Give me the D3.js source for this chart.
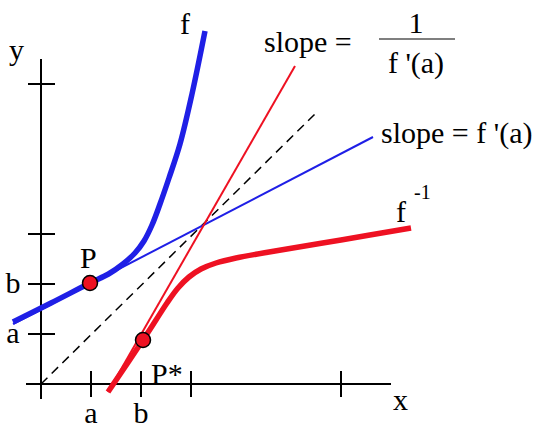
<!DOCTYPE html>
<html><head><meta charset="utf-8">
<script src="https://cdn.jsdelivr.net/npm/d3@7"></script>
<style>body{margin:0;background:#fff}</style>
</head><body><div id="chart"></div>
<script>
// curve f (blue) and its inverse (red)
const fCurve = [[-0.56,1.24],[0.2,1.62],[0.98,2.02],[1.35,2.2],[1.64,2.4],[1.88,2.62],[2.06,2.86],[2.22,3.18],[2.38,3.6],[2.56,4.12],[2.78,4.8],[3.02,5.8],[3.28,7.06]];
const fInvCurve = [[1.34,-0.16],[2.04,0.88],[2.3,1.28],[2.52,1.62],[2.74,1.92],[2.96,2.14],[3.2,2.3],[3.5,2.42],[3.9,2.52],[4.68,2.66],[6.0,2.88],[7.4,3.12]];
const tangentF = [[-0.56,1.2],[6.64,4.94]];
const tangentInv = [[1.34,-0.16],[5.08,6.36]];
const diagonal = [[0,0],[5.5,5.42]];
const xTicks = [1,2,3,6];
const yTicks = [1,2,3,6];
const xTickLabels = [{v:1,t:"a"},{v:2,t:"b"}];
const yTickLabels = [{v:1,t:"a"},{v:2,t:"b"}];
const P = [0.98,2.02], Pstar = [2.04,0.88];

const svg = d3.select('#chart').append('svg').attr('width',550).attr('height',429)
  .style('font-family','"Liberation Serif", "Times New Roman", serif').style('font-size','30px');
const x = d3.scaleLinear().domain([0,7]).range([41,391]);
const y = d3.scaleLinear().domain([0,7]).range([384,34]);
const line = d3.line().x(d=>x(d[0])).y(d=>y(d[1]));
const curve = d3.line().x(d=>x(d[0])).y(d=>y(d[1])).curve(d3.curveCatmullRom);

// axes
svg.append('line').attr('x1',x(0)).attr('x2',x(0)).attr('y1',y(6.5)).attr('y2',y(-0.3)).attr('stroke','#000').attr('stroke-width',2);
svg.append('line').attr('x1',x(-0.3)).attr('x2',x(7)).attr('y1',y(0)).attr('y2',y(0)).attr('stroke','#000').attr('stroke-width',2);
svg.selectAll('.xt').data(xTicks).enter().append('line')
  .attr('x1',d=>x(d)).attr('x2',d=>x(d)).attr('y1',y(0)-13).attr('y2',y(0)+13).attr('stroke','#000').attr('stroke-width',2);
svg.selectAll('.yt').data(yTicks).enter().append('line')
  .attr('y1',d=>y(d)).attr('y2',d=>y(d)).attr('x1',x(0)-13).attr('x2',x(0)+14).attr('stroke','#000').attr('stroke-width',2);
svg.selectAll('.xl').data(xTickLabels).enter().append('text')
  .attr('x',d=>x(d.v)).attr('y',423).attr('text-anchor','middle').text(d=>d.t);
svg.selectAll('.yl').data(yTickLabels).enter().append('text')
  .attr('x',13).attr('y',d=>y(d.v)+9).attr('text-anchor','middle').text(d=>d.t);

// lines
svg.append('path').attr('d',line(diagonal)).attr('fill','none').attr('stroke','#000').attr('stroke-width',1.5).attr('stroke-dasharray','9,6');
svg.append('path').attr('d',line(tangentF)).attr('fill','none').attr('stroke','#1f1fe6').attr('stroke-width',2);
svg.append('path').attr('d',line(tangentInv)).attr('fill','none').attr('stroke','#ee1122').attr('stroke-width',2);
svg.append('path').attr('d',curve(fCurve)).attr('fill','none').attr('stroke','#1f1fe6').attr('stroke-width',5.5);
svg.append('path').attr('d',curve(fInvCurve)).attr('fill','none').attr('stroke','#ee1122').attr('stroke-width',5.5);

// points
svg.selectAll('.pt').data([P,Pstar]).enter().append('circle')
  .attr('cx',d=>x(d[0])).attr('cy',d=>y(d[1])).attr('r',7.5).attr('fill','#ee1122').attr('stroke','#000').attr('stroke-width',1.5);

// labels
const txt = (tx,ty,s,anchor)=>svg.append('text').attr('x',tx).attr('y',ty).attr('text-anchor',anchor||'start').text(s);
txt(9,60,'y'); txt(393,410,'x');
txt(180,34,'f'); txt(80,268,'P'); txt(151,384,'P*');
txt(264,52,'slope ='); txt(416,33,'1','middle');
svg.append('line').attr('x1',379).attr('x2',455).attr('y1',39).attr('y2',39).attr('stroke','#000').attr('stroke-width',1.2);
txt(416,73,"f '(a)",'middle');
txt(381,143,"slope = f '(a)");
txt(396,222,'f');
svg.append('text').attr('x',414).attr('y',199).style('font-size','20px').text('-1');
</script></body></html>
